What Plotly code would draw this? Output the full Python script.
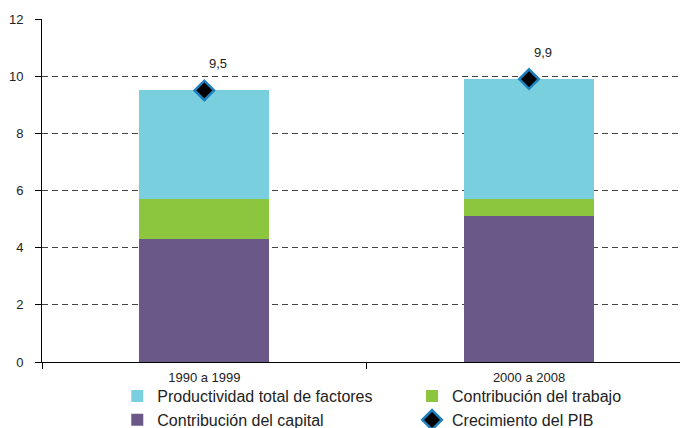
import plotly.graph_objects as go

# datos (puntos porcentuales)
periodos = ['1990 a 1999', '2000 a 2008']
capital = [4.3, 5.1]
trabajo = [1.4, 0.6]
ptf = [3.8, 4.2]
pib = [9.5, 9.9]

y_ticks = [0, 2, 4, 6, 8, 10, 12]

colores = {'ptf': '#7acfdf',
           'trabajo': '#8cc63e',
           'capital': '#6a5889'}

fig = go.Figure()

fig.add_trace(go.Bar(name='Contribución del capital', x=periodos, y=capital,
                     marker={'color': colores['capital'], 'line': {'width': 0}},
                     width=0.4, legend='legend', legendrank=2))
fig.add_trace(go.Bar(name='Contribución del trabajo', x=periodos, y=trabajo,
                     marker={'color': colores['trabajo'], 'line': {'width': 0}},
                     width=0.4, legend='legend2', legendrank=1))
fig.add_trace(go.Bar(name='Productividad total de factores', x=periodos, y=ptf,
                     marker={'color': colores['ptf'], 'line': {'width': 0}},
                     width=0.4, legend='legend', legendrank=1))
fig.add_trace(go.Scatter(name='Crecimiento del PIB', x=periodos, y=pib,
                         mode='markers',
                         marker={'symbol': 'diamond', 'size': 15, 'color': 'black',
                                 'line': {'color': '#1f80c0', 'width': 2.5}},
                         legend='legend2', legendrank=2))

for p, v in zip(periodos, pib):
    fig.add_annotation(x=p, y=v, text=f'{v:.1f}'.replace('.', ','),
                       showarrow=False, xshift=14, yshift=27,
                       font={'size': 13, 'color': '#222222'})

leyenda = {'orientation': 'v',
           'traceorder': 'normal',
           'font_size': 16,
           'xanchor': 'left',
           'y': -0.05, 'yanchor': 'top',
           'tracegroupgap': 0,
           'bgcolor': 'rgba(0,0,0,0)'}

fig.update_layout(template='plotly_white',
                  width=680, height=428,
                  barmode='stack',
                  bargap=0.6,
                  plot_bgcolor='white',
                  paper_bgcolor='white',
                  font={'family': 'Liberation Sans, Arial', 'color': '#222222', 'size': 13},
                  margin={'l': 42, 'r': 0, 't': 19, 'b': 66, 'autoexpand': False},
                  showlegend=True,
                  legend={**leyenda, 'x': 0.118},
                  legend2={**leyenda, 'x': 0.58},
                  xaxis={'type': 'category',
                         'range': [-0.5, 1.465],
                         'tickson': 'boundaries',
                         'ticks': 'outside', 'ticklen': 6, 'tickcolor': 'black',
                         'ticklabelstandoff': 3,
                         'showline': True, 'linecolor': 'black', 'linewidth': 1,
                         'showgrid': False,
                         'tickfont_size': 13,
                         'fixedrange': True},
                  yaxis={'range': [0, 12],
                         'tickvals': y_ticks,
                         'ticks': 'outside', 'ticklen': 6, 'tickcolor': 'black',
                         'ticklabelstandoff': 9,
                         'showline': True, 'linecolor': 'black', 'linewidth': 1,
                         'showgrid': True, 'gridcolor': '#444444', 'gridwidth': 1,
                         'griddash': '6px,4px',
                         'zeroline': False,
                         'tickfont_size': 13,
                         'fixedrange': True})

# sin el margen por defecto del body, la figura ocupa la ventana exacta
fig.write_html('out.html', config={'displayModeBar': False},
               post_script="document.body.style.margin='0';")
